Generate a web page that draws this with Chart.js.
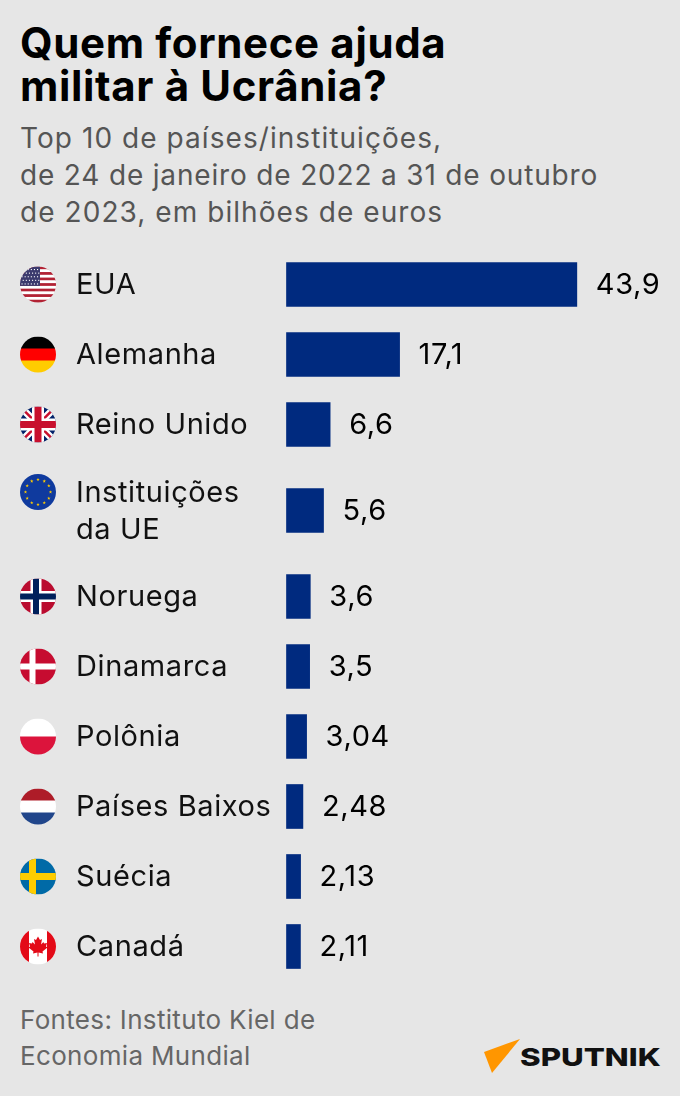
<!DOCTYPE html>
<html lang="pt">
<head>
<meta charset="utf-8">
<title>Quem fornece ajuda militar à Ucrânia?</title>
<script src="https://cdn.jsdelivr.net/npm/chart.js@4"></script>
<style>
    html, body { margin: 0; padding: 0; }
    body { width: 680px; height: 1096px; background: #e6e6e6; position: relative; overflow: hidden; font-family: Inter, sans-serif; }
    .title { position: absolute; left: 20px; top: 21px; margin: 0; font-size: 42px; line-height: 43px; font-weight: 700; letter-spacing: 0.65px; color: #000; }
    .subtitle { position: absolute; left: 20px; top: 120px; margin: 0; font-size: 28px; line-height: 37px; letter-spacing: 0.83px; color: #555; }
    .subtitle .wide { letter-spacing: 1.06px; }
    .source { position: absolute; left: 20px; top: 1002px; margin: 0; font-size: 26px; line-height: 36px; letter-spacing: 0.33px; color: #666; }
    .logo { position: absolute; left: 484px; top: 1038px; width: 40px; height: 36px; }
    .brand { position: absolute; left: 520px; top: 1040px; font-size: 25px; line-height: 34px; font-weight: 800; color: #111; transform: scaleX(1.25); transform-origin: left center; }
    #chart { position: absolute; left: 0; top: 228px; }
</style>
</head>
<body>
<h1 class="title">Quem fornece ajuda<br>militar à Ucrânia?</h1>
<p class="subtitle"><span class="wide">Top 10 de países/instituições,</span><br>de 24 de janeiro de 2022 a 31 de outubro<br><span class="wide">de 2023, em bilhões de euros</span></p>
<canvas id="chart" width="680" height="760"></canvas>
<p class="source">Fontes: Instituto Kiel de<br>Economia Mundial</p>
<svg class="logo" viewBox="0 0 40 36"><polygon points="0,14 36,1 8,35" fill="#ff9600"/></svg>
<div class="brand">SPUTNIK</div>

<script>
const countries = ['EUA', 'Alemanha', 'Reino Unido', ['Instituições', 'da UE'], 'Noruega', 'Dinamarca', 'Polônia', 'Países Baixos', 'Suécia', 'Canadá'];
const flags     = ['us', 'de', 'uk', 'eu', 'no', 'dk', 'pl', 'nl', 'se', 'ca'];
const aidValues = [43.9, 17.1, 6.6, 5.6, 3.6, 3.5, 3.04, 2.48, 2.13, 2.11];

const ROW_H = 70, EXTRA_LINE_H = 32, LINE_H = 37;

// ── Category scale whose rows grow with the number of label lines ──
class RowScale extends Chart.CategoryScale {
    getPixelForValue(value) {
        const index = typeof value === 'number' ? value : this.parse(value);
        let y = this.top;
        for (let i = 0; i < index; i++) y += rowHeight(i);
        return y + rowHeight(index) / 2;
    }
    // labels sit a pixel lower than the bar centres
    getPixelForTick(index) {
        return super.getPixelForTick(index) + 1;
    }
}
RowScale.id = 'rows';
RowScale.defaults = Chart.CategoryScale.defaults;
Chart.register(RowScale);

function rowHeight(i) {
    return ROW_H + (Array.isArray(countries[i]) ? EXTRA_LINE_H * (countries[i].length - 1) : 0);
}

// ── Flags ────────────────────────────────────
function stripesH(c, colors) {
    const h = 36 / colors.length;
    colors.forEach((col, i) => { c.fillStyle = col; c.fillRect(-18, -18 + i * h, 36, h + 0.5); });
}
function cross(c, color, cx, w) {
    c.fillStyle = color;
    c.fillRect(cx - w / 2, -18, w, 36);
    c.fillRect(-18, -w / 2, 36, w);
}
function star(c, x, y, r) {
    c.beginPath();
    for (let i = 0; i < 10; i++) {
        const a = -Math.PI / 2 + i * Math.PI / 5, rr = i % 2 ? r * 0.4 : r;
        c.lineTo(x + rr * Math.cos(a), y + rr * Math.sin(a));
    }
    c.closePath(); c.fill();
}
const flagPainters = {
    us(c) {
        for (let i = 0; i < 13; i++) {
            c.fillStyle = i % 2 ? '#fff' : '#b22234';
            c.fillRect(-18, -18 + i * 36 / 13, 36, 36 / 13 + 0.3);
        }
        c.fillStyle = '#3c3b6e'; c.fillRect(-18, -18, 20, 19.4);
        c.fillStyle = '#fff';
        for (let r = 0; r < 5; r++) for (let k = 0; k < 6; k++) {
            c.fillRect(-16.5 + k * 3.1 + (r % 2) * 1.2, -15.5 + r * 3.6, 1.1, 1.1);
        }
    },
    de(c) { stripesH(c, ['#000', '#ff0000', '#ffcc00']); },
    uk(c) {
        c.fillStyle = '#012169'; c.fillRect(-18, -18, 36, 36);
        c.strokeStyle = '#fff'; c.lineWidth = 7;
        c.beginPath(); c.moveTo(-18, -18); c.lineTo(18, 18); c.moveTo(18, -18); c.lineTo(-18, 18); c.stroke();
        c.strokeStyle = '#c8102e'; c.lineWidth = 2.5;
        c.beginPath(); c.moveTo(-18, -18); c.lineTo(18, 18); c.moveTo(18, -18); c.lineTo(-18, 18); c.stroke();
        c.fillStyle = '#fff'; c.fillRect(-6, -18, 12, 36); c.fillRect(-18, -6, 36, 12);
        c.fillStyle = '#c8102e'; c.fillRect(-3.5, -18, 7, 36); c.fillRect(-18, -3.5, 36, 7);
    },
    eu(c) {
        c.fillStyle = '#0f3a9e'; c.fillRect(-18, -18, 36, 36);
        c.fillStyle = '#ffcc00';
        for (let i = 0; i < 12; i++) {
            const a = i * Math.PI / 6;
            star(c, 12.5 * Math.cos(a), 12.5 * Math.sin(a), 1.8);
        }
    },
    no(c) {
        c.fillStyle = '#ba0c2f'; c.fillRect(-18, -18, 36, 36);
        cross(c, '#fff', -2, 11);
        cross(c, '#00205b', -2, 6);
    },
    dk(c) {
        c.fillStyle = '#c60c30'; c.fillRect(-18, -18, 36, 36);
        cross(c, '#fff', -5.5, 6);
    },
    pl(c) { stripesH(c, ['#fff', '#dc143c']); },
    nl(c) { stripesH(c, ['#ae1c28', '#fff', '#21468b']); },
    se(c) {
        c.fillStyle = '#006aa7'; c.fillRect(-18, -18, 36, 36);
        cross(c, '#fecc00', -5.5, 7);
    },
    ca(c) {
        c.fillStyle = '#fff'; c.fillRect(-18, -18, 36, 36);
        c.fillStyle = '#e30a17'; c.fillRect(-18, -18, 9, 36); c.fillRect(9, -18, 9, 36);
        c.beginPath();
        [[0,-10],[2,-6.5],[4,-7.5],[3,-2],[5.5,-4.5],[6,-3],[9,-3.5],[8,0],[9.5,1],[4.5,5],[5,7],[0.5,6],[0.5,10],[-0.5,10],[-0.5,6],[-5,7],[-4.5,5],[-9.5,1],[-8,0],[-9,-3.5],[-6,-3],[-5.5,-4.5],[-3,-2],[-4,-7.5],[-2,-6.5]]
            .forEach(p => c.lineTo(p[0], p[1]));
        c.closePath(); c.fill();
    }
};

const flagPlugin = {
    id: 'flags',
    beforeDraw(chart) {
        chart.ctx.letterSpacing = '0.6px';
    },
    afterDraw(chart) {
        const c = chart.ctx, yScale = chart.scales.y;
        countries.forEach((name, i) => {
            const lines = Array.isArray(name) ? name.length : 1;
            const cy = yScale.getPixelForValue(i) - (lines - 1) * LINE_H / 2;
            c.save();
            c.translate(38, cy);
            c.beginPath(); c.arc(0, 0, 18, 0, Math.PI * 2); c.clip();
            flagPainters[flags[i]](c);
            c.restore();
        });
    }
};

// ── Value labels next to the bars ────────────
const valueLabels = {
    id: 'valueLabels',
    afterDatasetsDraw(chart) {
        const c = chart.ctx;
        c.save();
        c.font = "29px Inter, sans-serif";
        c.fillStyle = '#000';
        c.textBaseline = 'middle';
        chart.getDatasetMeta(0).data.forEach((bar, i) => {
            c.fillText(String(aidValues[i]).replace('.', ','), bar.x + 19, bar.y + 1);
        });
        c.restore();
    }
};

new Chart(document.getElementById('chart'), {
    type: 'bar',
    data: {
        labels: countries,
        datasets: [{ data: aidValues, backgroundColor: '#002a7f', barThickness: 44, clip: false }]
    },
    plugins: [flagPlugin, valueLabels],
    options: {
        indexAxis: 'y',
        responsive: false,
        animation: false,
        layout: { padding: { left: 76, right: 102.5, top: 19, bottom: 0 } },
        plugins: { legend: { display: false }, tooltip: { enabled: false } },
        scales: {
            x: { min: 0, max: 44, display: false },
            y: {
                type: 'rows',
                grid: { display: false },
                border: { display: false },
                afterFit(scale) { scale.width = 210.5; },
                ticks: {
                    autoSkip: false,
                    crossAlign: 'far',
                    color: '#111',
                    font: { family: 'Inter, sans-serif', size: 29, lineHeight: 37 / 29 }
                }
            }
        }
    }
});
</script>
</body>
</html>
